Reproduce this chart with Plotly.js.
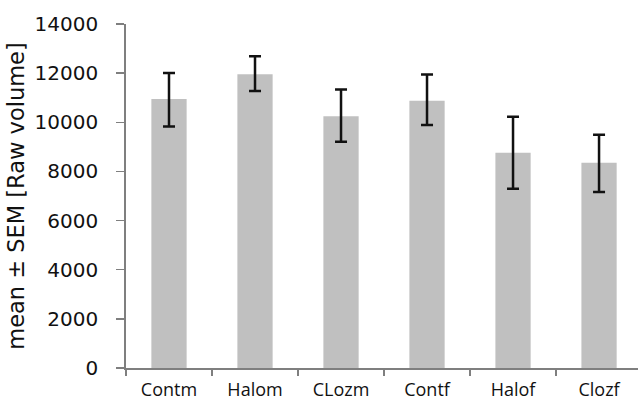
<!DOCTYPE html>
<html>
<head>
<meta charset="utf-8">
<script src="https://cdn.plot.ly/plotly-3.0.1.min.js"></script>
<style>html,body{margin:0;padding:0;background:#fff;}#chart{width:638px;height:401px;}</style>
</head>
<body>
<div id="chart"></div>
<script>
const categories = ["Contm", "Halom", "CLozm", "Contf", "Halof", "Clozf"];
const meanValues = [10950, 11960, 10250, 10880, 8760, 8350];
const semPlus = [1060, 730, 1080, 1060, 1470, 1140];
const semMinus = [1120, 690, 1040, 990, 1460, 1190];
const yTicks = [0, 2000, 4000, 6000, 8000, 10000, 12000, 14000];

const trace = {
  type: "bar",
  x: categories,
  y: meanValues,
  width: 0.41,
  marker: {color: "#c0c0c0", line: {width: 0}},
  error_y: {
    type: "data",
    symmetric: false,
    array: semPlus,
    arrayminus: semMinus,
    color: "#111111",
    thickness: 2.5,
    width: 6
  },
  hoverinfo: "skip"
};

const layout = {
  width: 638,
  height: 401,
  margin: {l: 126, r: 0, t: 24, b: 33},
  paper_bgcolor: "#ffffff",
  plot_bgcolor: "#ffffff",
  showlegend: false,
  xaxis: {
    type: "category",
    range: [-0.5, 5.453],
    tickson: "boundaries",
    ticks: "outside",
    ticklen: 6,
    tickwidth: 1.5,
    tickcolor: "#7f7f7f",
    showline: true,
    linecolor: "#7f7f7f",
    linewidth: 1.8,
    showgrid: false,
    zeroline: false,
    ticklabelstandoff: 5,
    tickfont: {family: "Open Sans, sans-serif", size: 18, color: "#111111"}
  },
  yaxis: {
    range: [0, 14000],
    tickvals: yTicks,
    ticktext: yTicks.map(String),
    ticks: "outside",
    ticklen: 8,
    tickwidth: 1.5,
    tickcolor: "#7f7f7f",
    showline: true,
    linecolor: "#7f7f7f",
    linewidth: 1.8,
    showgrid: false,
    zeroline: false,
    ticklabelstandoff: 14,
    tickfont: {family: "DejaVu Sans, Verdana, sans-serif", size: 20, color: "#111111"},
    title: {
      text: "mean \u00b1 SEM [Raw volume]",
      font: {family: "DejaVu Sans, Verdana, sans-serif", size: 22.5, color: "#111111"},
      standoff: 4
    }
  }
};

Plotly.newPlot("chart", [trace], layout, {staticPlot: true, displayModeBar: false});
</script>
</body>
</html>
